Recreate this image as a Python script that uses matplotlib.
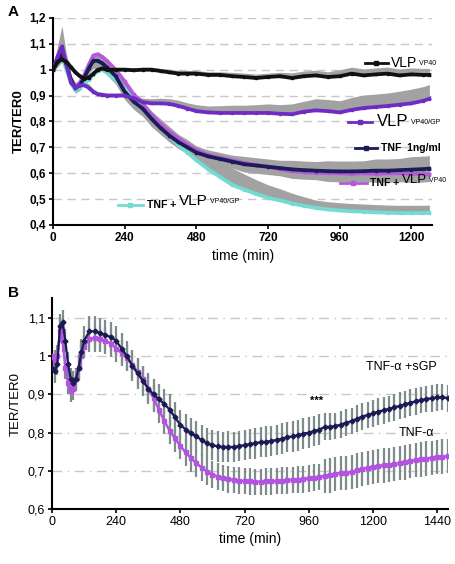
import numpy as np
import matplotlib
matplotlib.use("Agg")
import matplotlib.pyplot as plt
from matplotlib.ticker import FixedLocator, FuncFormatter

plt.rcParams['font.family'] = ['Liberation Sans', 'DejaVu Sans']

# ---------------- Panel A data ----------------
time_a = [0, 15, 30, 45, 60, 75, 90, 105, 120, 135, 150, 165, 180,
          210, 240, 270, 300, 330, 360, 390, 420, 450, 480,
          520, 560, 600, 640, 680, 720, 760, 800, 840, 880, 920, 960, 1000,
          1040, 1080, 1120, 1160, 1200, 1240, 1260]

vlp_vp40 = [1.0, 1.03, 1.04, 1.03, 1.01, 0.99, 0.975, 0.965, 0.97, 0.985, 1.0, 1.005, 1.0,
            1.0, 1.0, 0.998, 1.0, 1.0, 0.995, 0.99, 0.985, 0.985, 0.985,
            0.98, 0.98, 0.975, 0.972, 0.968, 0.972, 0.975, 0.968, 0.975, 0.978, 0.972, 0.975, 0.985,
            0.978, 0.982, 0.985, 0.978, 0.982, 0.98, 0.98]
vlp_vp40_err = [0.01, 0.02, 0.02, 0.02, 0.01, 0.01, 0.01, 0.01, 0.01, 0.01, 0.01, 0.01, 0.01,
                0.01, 0.01, 0.01, 0.01, 0.01, 0.01, 0.012, 0.012, 0.012, 0.012,
                0.012, 0.012, 0.015, 0.015, 0.015, 0.015, 0.015, 0.02, 0.02, 0.02, 0.02, 0.025, 0.025,
                0.025, 0.025, 0.025, 0.025, 0.025, 0.025, 0.025]

vlp_vp40gp = [1.0, 1.05, 1.09, 1.02, 0.95, 0.93, 0.94, 0.94, 0.93, 0.915, 0.905, 0.903, 0.9,
              0.9, 0.9, 0.89, 0.875, 0.87, 0.87, 0.868, 0.86, 0.85, 0.84,
              0.835, 0.833, 0.833, 0.833, 0.833, 0.833, 0.83, 0.828, 0.838, 0.843, 0.84, 0.835, 0.845,
              0.852, 0.856, 0.86, 0.865, 0.87, 0.88, 0.888]
vlp_vp40gp_err = [0.01, 0.04, 0.08, 0.04, 0.02, 0.02, 0.02, 0.015, 0.015, 0.01, 0.01, 0.01, 0.01,
                  0.01, 0.012, 0.015, 0.015, 0.018, 0.02, 0.02, 0.022, 0.022, 0.025,
                  0.025, 0.028, 0.03, 0.03, 0.032, 0.035, 0.035, 0.04, 0.04, 0.045, 0.045, 0.045, 0.048,
                  0.05, 0.05, 0.05, 0.052, 0.055, 0.055, 0.055]

tnf_a = [1.0, 1.03, 1.06, 1.02, 0.96, 0.93, 0.94, 0.97, 1.005, 1.035, 1.035, 1.025, 1.01,
         0.975, 0.915, 0.877, 0.85, 0.81, 0.775, 0.745, 0.72, 0.70, 0.68,
         0.665, 0.655, 0.645, 0.635, 0.63, 0.625, 0.62, 0.615, 0.612, 0.61, 0.608, 0.607, 0.607,
         0.608, 0.61, 0.61, 0.612, 0.614, 0.616, 0.618]
tnf_a_err = [0.01, 0.02, 0.03, 0.02, 0.02, 0.02, 0.02, 0.02, 0.02, 0.03, 0.03, 0.03, 0.03,
             0.03, 0.03, 0.03, 0.03, 0.03, 0.025, 0.025, 0.025, 0.025, 0.025,
             0.025, 0.025, 0.025, 0.03, 0.03, 0.03, 0.03, 0.035, 0.035, 0.035, 0.04, 0.04, 0.04,
             0.04, 0.045, 0.045, 0.045, 0.05, 0.05, 0.05]

tnf_vlp_vp40 = [1.0, 1.04, 1.08, 1.03, 0.96, 0.93, 0.95, 0.98, 1.02, 1.055, 1.06, 1.05, 1.035,
                1.0, 0.955, 0.905, 0.87, 0.825, 0.79, 0.76, 0.735, 0.71, 0.69,
                0.67, 0.66, 0.65, 0.64, 0.632, 0.625, 0.615, 0.608, 0.604, 0.602, 0.6, 0.6, 0.598,
                0.6, 0.598, 0.6, 0.6, 0.598, 0.597, 0.595]
tnf_vlp_vp40_err = [0.01, 0.02, 0.03, 0.02, 0.02, 0.02, 0.02, 0.02, 0.02, 0.02, 0.02, 0.02, 0.02,
                    0.02, 0.02, 0.02, 0.02, 0.02, 0.02, 0.02, 0.02, 0.02, 0.02,
                    0.02, 0.02, 0.02, 0.02, 0.02, 0.02, 0.02, 0.02, 0.02, 0.02, 0.02, 0.02, 0.02,
                    0.02, 0.02, 0.02, 0.02, 0.02, 0.02, 0.02]

tnf_vlp_vp40gp = [1.0, 1.03, 1.05, 1.0, 0.95, 0.92, 0.93, 0.95, 0.96, 0.98, 0.995, 1.0, 0.99,
                  0.96, 0.925, 0.89, 0.85, 0.815, 0.78, 0.745, 0.71, 0.68, 0.65,
                  0.615, 0.585, 0.555, 0.537, 0.52, 0.505, 0.495, 0.483, 0.474, 0.466, 0.46, 0.456, 0.453,
                  0.451, 0.449, 0.447, 0.446, 0.446, 0.446, 0.447]
tnf_vlp_vp40gp_err = [0.01, 0.01, 0.01, 0.01, 0.01, 0.01, 0.01, 0.01, 0.01, 0.01, 0.01, 0.01, 0.01,
                      0.01, 0.01, 0.015, 0.02, 0.025, 0.03, 0.035, 0.04, 0.05, 0.055,
                      0.06, 0.065, 0.065, 0.06, 0.055, 0.05, 0.045, 0.04, 0.035, 0.03, 0.03, 0.03, 0.03,
                      0.03, 0.03, 0.03, 0.03, 0.03, 0.03, 0.03]

# ---------------- Panel B data ----------------
time_b = [0, 10, 20, 30, 40, 50, 60, 70, 80, 90, 100, 110, 120,
          140, 160, 180, 200, 220, 240, 260, 280, 300, 320, 340, 360, 380, 400,
          420, 440, 460, 480, 500, 520, 540, 560, 580, 600, 620, 640, 660, 680,
          700, 720, 740, 760, 780, 800, 820, 840, 860, 880, 900, 920, 940, 960,
          980, 1000, 1020, 1040, 1060, 1080, 1100, 1120, 1140, 1160, 1180, 1200,
          1220, 1240, 1260, 1280, 1300, 1320, 1340, 1360, 1380, 1400, 1420, 1440,
          1460, 1480]

tnf_sgp = [0.97, 0.96, 0.98, 1.08, 1.09, 1.04, 0.98, 0.94, 0.93, 0.94, 0.97, 1.01, 1.04,
           1.065, 1.065, 1.06, 1.055, 1.05, 1.04, 1.02, 1.0, 0.975, 0.955, 0.935, 0.915, 0.90, 0.887,
           0.875, 0.86, 0.84, 0.82, 0.808, 0.798, 0.79, 0.78, 0.772, 0.767, 0.764, 0.762, 0.763, 0.762,
           0.765, 0.767, 0.77, 0.772, 0.775, 0.776, 0.778, 0.781, 0.784, 0.788, 0.79, 0.793, 0.797, 0.80,
           0.804, 0.808, 0.815, 0.815, 0.817, 0.821, 0.826, 0.83, 0.836, 0.842, 0.846, 0.85,
           0.855, 0.858, 0.862, 0.866, 0.87, 0.874, 0.878, 0.882, 0.885, 0.888, 0.89, 0.892,
           0.893, 0.89]
tnf_sgp_err = [0.03, 0.03, 0.03, 0.03, 0.03, 0.03, 0.03, 0.03, 0.03, 0.03, 0.035, 0.035, 0.04,
               0.04, 0.04, 0.04, 0.04, 0.04, 0.04, 0.04, 0.04, 0.04, 0.04, 0.04, 0.04, 0.04, 0.04,
               0.04, 0.04, 0.04, 0.04, 0.04, 0.04, 0.04, 0.04, 0.04, 0.04, 0.04, 0.04, 0.04, 0.04,
               0.04, 0.04, 0.04, 0.04, 0.04, 0.04, 0.04, 0.04, 0.04, 0.04, 0.04, 0.04, 0.04, 0.04,
               0.04, 0.04, 0.035, 0.035, 0.035, 0.035, 0.035, 0.035, 0.035, 0.035, 0.035, 0.035,
               0.035, 0.035, 0.035, 0.035, 0.035, 0.035, 0.035, 0.035, 0.035, 0.035, 0.035, 0.035,
               0.035, 0.035]

tnf_alpha = [1.0, 0.985, 1.0, 1.065, 1.04, 0.97, 0.93, 0.91, 0.915, 0.94, 0.97, 1.0, 1.025,
             1.045, 1.047, 1.045, 1.04, 1.033, 1.02, 1.008, 0.995, 0.978, 0.958, 0.94, 0.915, 0.89, 0.86,
             0.83, 0.805, 0.785, 0.765, 0.748, 0.733, 0.72, 0.708, 0.698, 0.69, 0.685, 0.681, 0.678, 0.676,
             0.674, 0.673, 0.672, 0.671, 0.671, 0.672, 0.672, 0.673, 0.674, 0.675, 0.676, 0.677, 0.678, 0.68,
             0.682, 0.684, 0.686, 0.688, 0.691, 0.695, 0.694, 0.697, 0.701, 0.705, 0.708, 0.71,
             0.712, 0.714, 0.715, 0.717, 0.72, 0.722, 0.725, 0.728, 0.73, 0.732, 0.734, 0.736,
             0.737, 0.738]
tnf_alpha_err = [0.03, 0.03, 0.03, 0.03, 0.03, 0.03, 0.03, 0.03, 0.03, 0.03, 0.03, 0.03, 0.03,
                 0.035, 0.035, 0.035, 0.035, 0.035, 0.035, 0.035, 0.035, 0.035, 0.035, 0.035, 0.035, 0.035, 0.035,
                 0.035, 0.035, 0.035, 0.035, 0.035, 0.035, 0.035, 0.035, 0.035, 0.035, 0.035, 0.035, 0.035, 0.035,
                 0.035, 0.035, 0.035, 0.035, 0.035, 0.035, 0.035, 0.035, 0.035, 0.035, 0.035, 0.035, 0.035, 0.035,
                 0.035, 0.035, 0.045, 0.045, 0.045, 0.045, 0.045, 0.045, 0.045, 0.045, 0.045, 0.045,
                 0.045, 0.045, 0.045, 0.045, 0.045, 0.045, 0.045, 0.045, 0.045, 0.045, 0.045, 0.045,
                 0.045, 0.045]

yticks_a = [0.4, 0.5, 0.6, 0.7, 0.8, 0.9, 1.0, 1.1, 1.2]
yticks_b = [0.6, 0.7, 0.8, 0.9, 1.0, 1.1]
xticks_a = [0, 240, 480, 720, 960, 1200]
xticks_b = [0, 240, 480, 720, 960, 1200, 1440]


def comma_fmt(v, pos=None):
    s = ('%g' % round(v, 2))
    return s.replace('.', ',')


fig = plt.figure(figsize=(4.56, 5.64), dpi=100)

# ---------------- Panel A ----------------
axA = fig.add_axes([0.1162, 0.6011, 0.832, 0.367])
band_col = '#a2a2a2'
series_a = [
    (tnf_vlp_vp40gp, tnf_vlp_vp40gp_err, '#72dcd2', 'up'),
    (tnf_vlp_vp40, tnf_vlp_vp40_err, '#b35ad8', 'down'),
    (tnf_a, tnf_a_err, '#1b1b5a', 'both'),
    (vlp_vp40gp, vlp_vp40gp_err, '#6f2cc4', 'up'),
    (vlp_vp40, vlp_vp40_err, '#111111', 'up'),
]
for y, e, c, side in series_a:
    y = np.asarray(y); e = np.asarray(e)
    lo = y - e if side in ('down', 'both') else y
    hi = y + e if side in ('up', 'both') else y
    axA.fill_between(time_a, lo, hi, color=band_col, lw=0, zorder=1)
for y, e, c, side in series_a:
    axA.plot(time_a, y, color=c, lw=2.7, marker='s', ms=2, zorder=3)

axA.set_xlim(0, 1270)
axA.set_ylim(0.4, 1.2)
axA.yaxis.set_major_locator(FixedLocator(yticks_a))
axA.yaxis.set_major_formatter(FuncFormatter(comma_fmt))
axA.xaxis.set_major_locator(FixedLocator(xticks_a))
for g in yticks_a[1:]:
    axA.axhline(g, color='#c8c8c8', lw=1.0, dashes=(6, 4), zorder=0)
axA.spines['top'].set_visible(False)
axA.spines['right'].set_visible(False)
for s in ('left', 'bottom'):
    axA.spines[s].set_linewidth(1.5)
axA.tick_params(direction='out', length=3, width=1.2, labelsize=8.5, pad=2)
for lab in axA.get_xticklabels() + axA.get_yticklabels():
    lab.set_fontweight('bold')
axA.set_xlabel('time (min)', fontsize=10, labelpad=4)
axA.set_ylabel('TER/TER0', fontsize=9.5, fontweight='bold', labelpad=3)

# legend-like annotations in panel A
def key(ax, x0, x1, y, color):
    ax.plot([x0, x1], [y, y], transform=ax.transAxes, color=color, lw=2,
            clip_on=False, zorder=5)
    ax.plot([(x0 + x1) / 2], [y], transform=ax.transAxes, color=color,
            marker='s', ms=3, clip_on=False, zorder=5)


def label(ax, x, y, parts):
    prev = None
    for txt, size, weight in parts:
        if prev is None:
            prev = ax.text(x, y, txt, transform=ax.transAxes, fontsize=size,
                           fontweight=weight, va='center', ha='left')
        else:
            prev = ax.annotate(txt, xy=(1, 0.2), xycoords=prev, fontsize=size,
                               fontweight=weight, va='bottom', ha='left')
    return prev


key(axA, 0.822, 0.883, 0.783, '#111111')
label(axA, 0.891, 0.783, [('VLP', 10, 'normal'), (' VP40', 5, 'normal')])
key(axA, 0.778, 0.841, 0.498, '#6f2cc4')
label(axA, 0.855, 0.498, [('VLP', 12, 'normal'), (' VP40/GP', 5, 'normal')])
key(axA, 0.796, 0.854, 0.372, '#1b1b5a')
label(axA, 0.865, 0.372, [('TNF  1ng/ml', 7.5, 'bold')])
key(axA, 0.756, 0.828, 0.203, '#b35ad8')
label(axA, 0.836, 0.203, [('TNF + ', 7.5, 'bold'), ('VLP', 9.5, 'normal'), (' VP40', 5, 'normal')])
key(axA, 0.171, 0.237, 0.097, '#72dcd2')
label(axA, 0.248, 0.097, [('TNF + ', 7.5, 'bold'), ('VLP', 11, 'normal'), (' VP40/GP', 5, 'normal')])

fig.text(8 / 456, 1 - 12 / 564, 'A', fontsize=11, fontweight='bold', va='center', ha='left')

# ---------------- Panel B ----------------
axB = fig.add_axes([0.114, 0.0975, 0.868, 0.374])
err_col = '#7e8c8c'
axB.errorbar(time_b, tnf_sgp, yerr=tnf_sgp_err, fmt='none', ecolor=err_col,
             elinewidth=1.6, capsize=0, zorder=1)
axB.errorbar(time_b, tnf_alpha, yerr=tnf_alpha_err, fmt='none', ecolor=err_col,
             elinewidth=1.6, capsize=0, zorder=1)
axB.plot(time_b, tnf_alpha, color='#b452e2', lw=1.8, marker='s', ms=3, zorder=3)
axB.plot(time_b, tnf_sgp, color='#1b1a52', lw=1.6, marker='D', ms=2.5, zorder=4)

axB.set_xlim(0, 1480)
axB.set_ylim(0.6, 1.152)
axB.yaxis.set_major_locator(FixedLocator(yticks_b))
axB.yaxis.set_major_formatter(FuncFormatter(comma_fmt))
axB.xaxis.set_major_locator(FixedLocator(xticks_b))
for g in yticks_b[1:]:
    axB.axhline(g, color='#c8c8c8', lw=1.0, dashes=(7, 4, 1, 4), zorder=0)
axB.spines['top'].set_visible(False)
axB.spines['right'].set_visible(False)
for s in ('left', 'bottom'):
    axB.spines[s].set_linewidth(1.5)
axB.tick_params(direction='out', length=3, width=1.2, labelsize=9, pad=2)
axB.set_xlabel('time (min)', fontsize=10, labelpad=3)
axB.set_ylabel('TER/TER0', fontsize=9.5, labelpad=4)

axB.text(0.972, 0.673, 'TNF-α +sGP', transform=axB.transAxes, fontsize=9,
         ha='right', va='center')
axB.text(0.922, 0.36, 'TNF-α', transform=axB.transAxes, fontsize=9,
         ha='center', va='center')
axB.text(0.669, 0.515, '***', transform=axB.transAxes, fontsize=8,
         fontweight='bold', ha='center', va='center')

fig.text(8 / 456, 1 - 293 / 564, 'B', fontsize=11, fontweight='bold', va='center', ha='left')

fig.savefig('out.png', dpi=100)
